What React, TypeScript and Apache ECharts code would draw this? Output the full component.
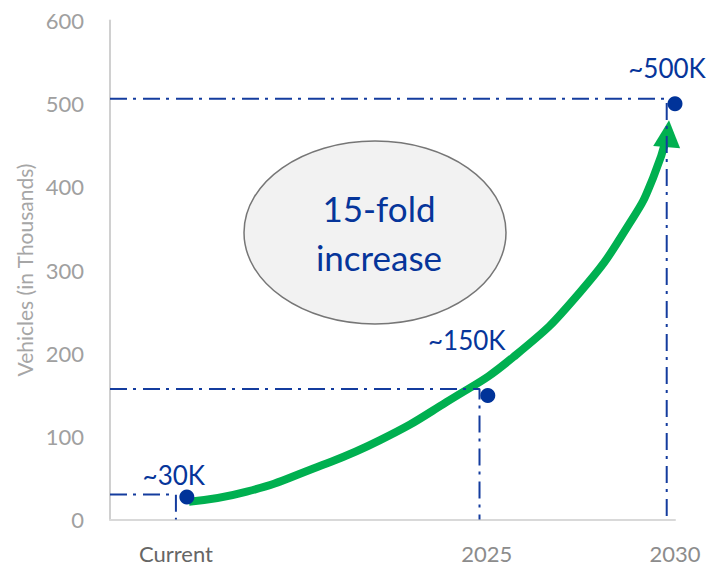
import React, { useEffect, useRef } from "react";
import * as echarts from "echarts";

// Axis
const yMin = 0;
const yMax = 600;
const yInterval = 100;
const xMin = 2015;
const xMax = 2030;
const xLabelValues = [2016.75, 2025, 2030];
const xLabelTexts = ["Current", "2025", "2030"];

// Milestone points (thousands of vehicles)
const pointX = [2017.04, 2025.03, 2030];
const pointY = [27, 149, 500];
const pointLabels = ["~30K", "~150K", "~500K"];

// Dash-dot guide lines
const guideX = [2016.75, 2024.81, 2029.78];
const guideY = [30, 157, 506];

// Green growth arrow
const curveX = [2017.1, 2018.63, 2020.4, 2022.17, 2023.94, 2025.71, 2027.48, 2028.89, 2029.42, 2029.81];
const curveY = [21.4, 33.4, 61.4, 95.4, 141.4, 195.4, 273.4, 363, 411, 464];

const calloutText = "15-fold\nincrease";

const FONT = "Lato, 'Open Sans', sans-serif";
const BLUE_TEXT = "#06359a";
const BLUE_DOT = "#003399";
const BLUE_LINE = "#143c9e";
const GREEN = "#00b050";

export default function App() {
  const ref = useRef<HTMLDivElement>(null);

  useEffect(() => {
    if (!ref.current) return;
    const chart = echarts.init(ref.current, undefined, { renderer: "svg" });

    const labelOffsets = [
      [-13, -22],
      [-21, -56],
      [-8, -36],
    ];

    const guideSeries = guideX.map((gx, i) => ({
      type: "line",
      data: [
        [xMin, guideY[i]],
        [gx, guideY[i]],
        [gx, yMin],
      ],
      symbol: "none",
      silent: true,
      z: 4,
      lineStyle: { color: BLUE_LINE, width: 2, type: [17, 6, 3, 7] },
    }));

    const curveData: any[] = curveX.map((x, i) => [x, curveY[i]]);
    const last = curveData.length - 1;
    curveData[last] = {
      value: curveData[last],
      symbol: "triangle",
      symbolSize: [27, 27],
      symbolRotate: -5,
      itemStyle: { color: GREEN, opacity: 1 },
    };

    const option: any = {
      animation: false,
      textStyle: { fontFamily: FONT },
      grid: {
        left: 110,
        right: 32,
        top: 20.5,
        bottom: 47.5,
        containLabel: false,
        outerBoundsMode: "none",
      },
      xAxis: {
        type: "value",
        min: xMin,
        max: xMax,
        axisLine: { show: true, lineStyle: { color: "#d9d9d9", width: 2 } },
        axisTick: { show: false },
        splitLine: { show: false },
        axisLabel: {
          customValues: xLabelValues,
          margin: 23,
          fontSize: 22,
          fontFamily: FONT,
          formatter: (v: number) => {
            let best = 0;
            xLabelValues.forEach((x, i) => {
              if (Math.abs(x - v) < Math.abs(xLabelValues[best] - v)) best = i;
            });
            return best === 0
              ? `{cur|${xLabelTexts[best]}}`
              : `{yr|${xLabelTexts[best]}}`;
          },
          rich: {
            cur: { color: "#666666", fontSize: 22, fontFamily: FONT },
            yr: { color: "#8c8c8c", fontSize: 22, fontFamily: FONT },
          },
        },
      },
      yAxis: {
        type: "value",
        min: yMin,
        max: yMax,
        interval: yInterval,
        name: "Vehicles (in Thousands)",
        nameLocation: "middle",
        nameRotate: 90,
        nameGap: 70,
        nameTextStyle: { color: "#a6a6a6", fontSize: 21, fontFamily: FONT },
        axisLine: { show: true, lineStyle: { color: "#d0d0d0", width: 2 } },
        axisTick: { show: false },
        splitLine: { show: false },
        axisLabel: { color: "#a0a0a0", fontSize: 22, margin: 26, fontFamily: FONT },
      },
      graphic: [
        {
          type: "ellipse",
          shape: { cx: 375, cy: 232.5, rx: 131, ry: 91.5 },
          style: { fill: "#f2f2f2", stroke: "#767676", lineWidth: 1.5 },
          z: 1,
        },
        {
          type: "text",
          x: 379,
          y: 232.5,
          z: 2,
          style: {
            text: calloutText,
            fill: BLUE_TEXT,
            fontSize: 35,
            fontFamily: FONT,
            lineHeight: 49,
            align: "center",
            verticalAlign: "middle",
          },
        },
      ],
      series: [
        {
          type: "line",
          data: curveData,
          smooth: 0.5,
          symbol: "none",
          silent: true,
          z: 3,
          lineStyle: { color: GREEN, width: 8, cap: "butt" },
          itemStyle: { color: GREEN, opacity: 1 },
        },
        ...guideSeries,
        {
          type: "scatter",
          data: pointX.map((x, i) => ({
            value: [x, pointY[i]],
            label: {
              show: true,
              formatter: pointLabels[i],
              position: "inside",
              offset: labelOffsets[i],
              color: BLUE_TEXT,
              fontSize: 26,
              fontFamily: FONT,
            },
          })),
          symbol: "circle",
          symbolSize: 15,
          clip: false,
          z: 5,
          itemStyle: { color: BLUE_DOT, opacity: 1 },
        },
      ],
    };

    chart.setOption(option);
    return () => chart.dispose();
  }, []);

  return (
    <div
      ref={ref}
      style={{ position: "absolute", left: 0, top: 0, width: 707, height: 567 }}
    />
  );
}
